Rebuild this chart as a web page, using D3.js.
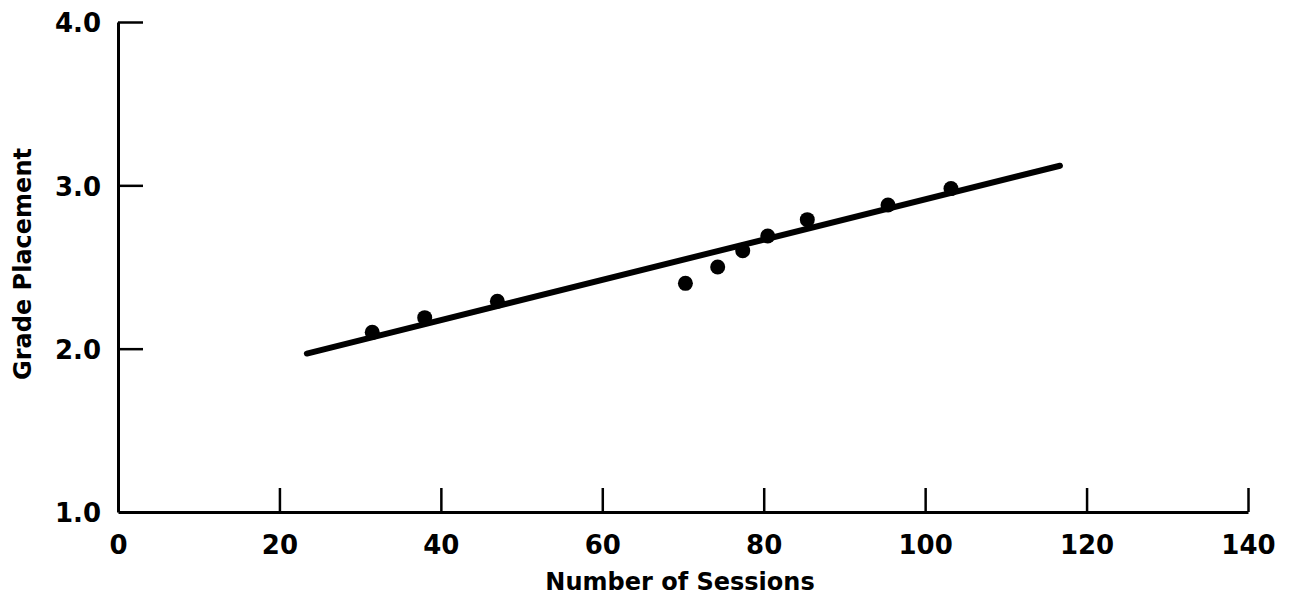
<!DOCTYPE html>
<html>
<head>
<meta charset="utf-8">
<script src="https://cdn.jsdelivr.net/npm/d3@7"></script>
<style>
  html, body { margin: 0; padding: 0; background: #fff; }
  svg { display: block; font-family: "DejaVu Sans", sans-serif; }
</style>
</head>
<body>
<svg></svg>
<script>
// Data
const sessions = [31.5, 38, 47, 70.3, 74.3, 77.4, 80.5, 85.4, 95.4, 103.2];
const grades = [2.1, 2.19, 2.29, 2.4, 2.5, 2.6, 2.69, 2.79, 2.88, 2.98];

// fitted line end points
const fitX = [23.4, 116.7];
const fitY = [1.97, 3.12];

const xTicks = [0, 20, 40, 60, 80, 100, 120, 140];
const yTicks = [1.0, 2.0, 3.0, 4.0];

// Constants
const width = 1293;
const height = 601;
const plotLeft = 118;
const plotRight = 1248;
const plotTop = 22;
const plotBottom = 512;

const svg = d3.select('svg')
    .attr('width', width)
    .attr('height', height);

const x = d3.scaleLinear().domain([0, 140]).range([plotLeft, plotRight]);
const y = d3.scaleLinear().domain([1, 4]).range([plotBottom, plotTop]);

// xAxis - ticks point up into the plot
const xAxis = d3.axisBottom(x)
    .tickValues(xTicks)
    .tickSizeInner(-24)
    .tickSizeOuter(0)
    .tickPadding(0)
    .tickFormat(d => String(d));

const gx = svg.append('g')
    .attr('transform', `translate(0, ${plotBottom})`)
    .call(xAxis);

gx.select('.domain').attr('stroke', '#000').attr('stroke-width', 3);
gx.selectAll('.tick line')
    .attr('stroke', '#000')
    .attr('stroke-width', 2.5)
    .filter(d => d === 0).remove();
gx.selectAll('.tick text')
    .attr('y', 42)
    .attr('dy', 0)
    .attr('fill', '#000')
    .attr('font-size', 26)
    .attr('font-weight', 'bold')
    .attr('font-family', '"DejaVu Sans", sans-serif');

// yAxis - ticks point right into the plot
const yAxis = d3.axisLeft(y)
    .tickValues(yTicks)
    .tickSizeInner(-25)
    .tickSizeOuter(0)
    .tickPadding(0)
    .tickFormat(d3.format('.1f'));

const gy = svg.append('g')
    .attr('transform', `translate(${plotLeft}, 0)`)
    .call(yAxis);

gy.select('.domain').attr('stroke', '#000').attr('stroke-width', 3);
gy.selectAll('.tick line')
    .attr('stroke', '#000')
    .attr('stroke-width', 2.5)
    .filter(d => d === 1).remove();
gy.selectAll('.tick text')
    .attr('x', -17)
    .attr('dy', '0.38em')
    .attr('fill', '#000')
    .attr('font-size', 26)
    .attr('font-weight', 'bold')
    .attr('font-family', '"DejaVu Sans", sans-serif');

// axis titles
svg.append('text')
    .attr('x', 680)
    .attr('y', 590)
    .attr('text-anchor', 'middle')
    .attr('font-size', 24)
    .attr('font-weight', 'bold')
    .text('Number of Sessions');

svg.append('text')
    .attr('transform', `translate(31, 264) rotate(-90)`)
    .attr('text-anchor', 'middle')
    .attr('font-size', 24)
    .attr('font-weight', 'bold')
    .text('Grade Placement');

// fitted line
const fit = fitX.map((d, i) => [d, fitY[i]]);
svg.append('path')
    .datum(fit)
    .attr('fill', 'none')
    .attr('stroke', '#000')
    .attr('stroke-width', 6)
    .attr('stroke-linecap', 'round')
    .attr('d', d3.line().x(d => x(d[0])).y(d => y(d[1])));

// points
svg.selectAll('circle')
    .data(sessions)
    .enter().append('circle')
    .attr('cx', d => x(d))
    .attr('cy', (d, i) => y(grades[i]))
    .attr('r', 7.5)
    .attr('fill', '#000');
</script>
</body>
</html>
